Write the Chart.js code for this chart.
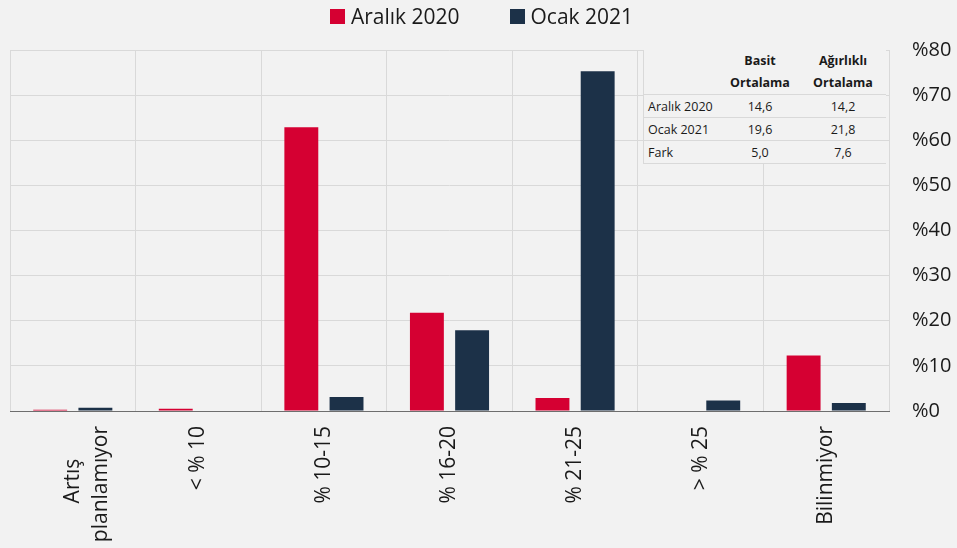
<!DOCTYPE html>
<html>
<head>
<meta charset="utf-8">
<script src="https://cdn.jsdelivr.net/npm/chart.js"></script>
<style>
  body { margin: 0; background: #f2f2f2; font-family: 'Open Sans', sans-serif; color: #1a1a1a; }
  #wrap { position: relative; width: 957px; height: 548px; }
  #legend { position: absolute; top: 0; left: 0; width: 957px; height: 32px; display: flex; justify-content: center; align-items: center; padding-left: 6px; box-sizing: border-box; }
  .item { display: flex; align-items: center; font-size: 21px; margin: 0 25px; }
  .item span.box { width: 15px; height: 15px; margin-right: 6px; }
  #tablo { position: absolute; left: 643px; top: 50px; width: 243px; border-collapse: collapse; background: #f2f2f2; font-size: 12.5px; }
  #tablo td, #tablo th { border-bottom: 1px solid #d9d9d9; padding: 0; }
  #tablo th { font-weight: 700; height: 44px; line-height: 22px; text-align: center; }
  #tablo td { height: 22px; text-align: center; }
  #tablo td.lbl { text-align: left; padding-left: 4px; }
  #tablo tr > :first-child { border-left: 1px solid #d9d9d9; }
</style>
</head>
<body>
<div id="wrap">
  <canvas id="grafik" width="957" height="548"></canvas>
  <div id="legend"></div>
  <table id="tablo"></table>
</div>
<script>
// kategoriler ve seriler (%)
const kategoriler = [['Artış      ', 'planlamıyor'], '< % 10', '% 10-15', '% 16-20', '% 21-25', '> % 25', 'Bilinmiyor'];
const aralik2020 = [0.3, 0.5, 62.9, 21.8, 2.9, 0, 12.3];
const ocak2021 = [0.7, 0, 3.1, 17.9, 75.3, 2.3, 1.8];
const seriAdlari = ['Aralık 2020', 'Ocak 2021'];
const renkler = ['#d50032', '#1c3148'];

// tablo
const tabloBasliklari = [['Basit', 'Ortalama'], ['Ağırlıklı', 'Ortalama']];
const tabloSatirlari = ['Aralık 2020', 'Ocak 2021', 'Fark'];
const basitOrtalama = ['14,6', '19,6', '5,0'];
const agirlikliOrtalama = ['14,2', '21,8', '7,6'];

// legend
const legend = document.getElementById('legend');
seriAdlari.forEach((ad, i) => {
  const d = document.createElement('div');
  d.className = 'item';
  d.innerHTML = '<span class="box" style="background:' + renkler[i] + '"></span>' + ad;
  legend.appendChild(d);
});

// tablo
const tablo = document.getElementById('tablo');
let html = '<tr><th style="width:76px"></th>' +
  tabloBasliklari.map((b, i) => '<th style="width:' + (i ? 86 : 80) + 'px">' + b.join('<br>') + '</th>').join('') + '</tr>';
tabloSatirlari.forEach((s, i) => {
  html += '<tr><td class="lbl">' + s + '</td><td>' + basitOrtalama[i] + '</td><td>' + agirlikliOrtalama[i] + '</td></tr>';
});
tablo.innerHTML = html;

Chart.defaults.font.family = "'Open Sans', sans-serif";
Chart.defaults.color = '#1a1a1a';

new Chart(document.getElementById('grafik'), {
  type: 'bar',
  data: {
    labels: kategoriler,
    datasets: [
      { label: seriAdlari[0], data: aralik2020, backgroundColor: renkler[0] },
      { label: seriAdlari[1], data: ocak2021, backgroundColor: renkler[1] }
    ]
  },
  options: {
    responsive: false,
    animation: false,
    categoryPercentage: 0.72,
    barPercentage: 0.75,
    layout: { padding: { left: 10, top: 50, right: 0, bottom: 0 } },
    plugins: { legend: { display: false }, tooltip: { enabled: false } },
    scales: {
      x: {
        grid: { color: '#d9d9d9', drawTicks: false, offset: true },
        border: { color: '#6e6e6e', width: 1 },
        ticks: { font: { size: 21, lineHeight: 1.33 }, minRotation: 90, maxRotation: 90, padding: 15, autoSkip: false },
        afterFit: s => { s.height = 137; }
      },
      y: {
        position: 'right',
        min: 0, max: 80,
        grid: { color: '#d9d9d9', drawTicks: false },
        border: { display: false },
        ticks: { stepSize: 10, font: { size: 20 }, padding: 23, callback: v => '%' + v },
        afterFit: s => { s.width = 68; }
      }
    }
  }
});
</script>
</body>
</html>
